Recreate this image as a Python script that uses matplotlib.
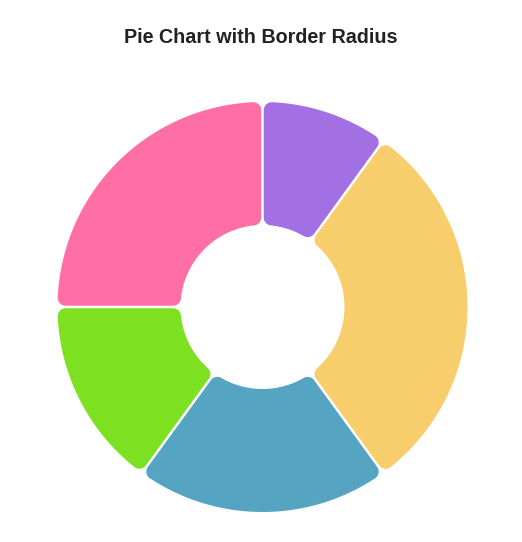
import numpy as np
import matplotlib.pyplot as plt
from matplotlib.patches import Polygon

# slices, clockwise from 12 o'clock
values = [10, 30, 20, 15, 25]
colors = ["#A370E4", "#F8CD6B", "#55A4C2", "#7DE020", "#FF6FA6"]
title = "Pie Chart with Border Radius"

W, H = 522, 542
cx, cy = 262.5, H - 307
r_out, r_in = 205, 82
corner = 8
gap = 2.5


def pol(x0, y0, rad, ang):
    a = np.radians(ang)
    return np.array([x0 + rad * np.cos(a), y0 + rad * np.sin(a)])


def arc(x0, y0, rad, a0, a1, n=60):
    t = np.radians(np.linspace(a0, a1, n))
    return list(zip(x0 + rad * np.cos(t), y0 + rad * np.sin(t)))


def rounded_sector(th_s, th_e):
    d = gap / 2 + corner
    ao = np.degrees(np.arcsin(d / (r_out - corner)))
    ai = np.degrees(np.arcsin(d / (r_in + corner)))
    pts = []
    pts += arc(cx, cy, r_out, th_s + ao, th_e - ao)
    co = pol(cx, cy, r_out - corner, th_e - ao)
    pts += arc(co[0], co[1], corner, th_e - ao, th_e + 90, 20)
    ci = pol(cx, cy, r_in + corner, th_e - ai)
    pts += arc(ci[0], ci[1], corner, th_e + 90, th_e - ai + 180, 20)
    pts += arc(cx, cy, r_in, th_e - ai, th_s + ai)
    ci = pol(cx, cy, r_in + corner, th_s + ai)
    pts += arc(ci[0], ci[1], corner, th_s + ai + 180, th_s + 270, 20)
    co = pol(cx, cy, r_out - corner, th_s + ao)
    pts += arc(co[0], co[1], corner, th_s - 90, th_s + ao, 20)
    return np.array(pts)


fig = plt.figure(figsize=(W / 100, H / 100), dpi=100)
ax = fig.add_axes([0, 0, 1, 1])
ax.set_xlim(0, W)
ax.set_ylim(0, H)
ax.axis("off")

total = sum(values)
cum = 0
for v, col in zip(values, colors):
    th_e = 90 - 360 * cum / total
    cum += v
    th_s = 90 - 360 * cum / total
    ax.add_patch(Polygon(rounded_sector(th_s, th_e), closed=True,
                         facecolor=col, edgecolor="none"))

fig.text(0.5, 1 - 38 / H, title, ha="center", va="center",
         fontsize=14.2, fontweight="bold", family="Liberation Sans",
         color="#222222")

fig.savefig("out.png", dpi=100)
